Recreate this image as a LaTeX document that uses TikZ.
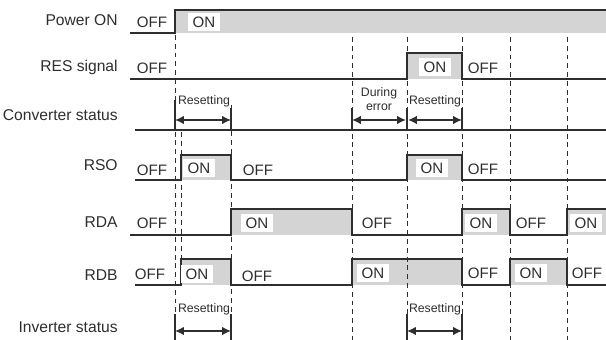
\documentclass[tikz,border=0pt]{standalone}
\usepackage{fontspec}
\setmainfont{Liberation Sans}
\usetikzlibrary{arrows.meta}
\definecolor{wire}{HTML}{2E2E2E}
\definecolor{level}{HTML}{D4D4D4}
\tikzset{>={Latex[length=5pt,width=4.8pt]},
  signal/.style={draw=wire,line width=1pt},
  guide/.style={draw=wire,dash pattern=on 2.8pt off 2.2pt,line width=.5pt},
  tick/.style={draw=wire,line width=.8pt},
  period/.style={<->,draw=wire,line width=.9pt},
  signame/.style={anchor=east,inner sep=0pt,font=\fontsize{8.9}{10}\selectfont,text=wire},
  state/.style={font=\fontsize{8.6}{10}\selectfont,text=wire,inner xsep=2.4pt,inner ysep=2.2pt},
  onbox/.style={state,fill=white},
  spanlabel/.style={font=\fontsize{7}{7.6}\selectfont,text=wire,inner sep=1pt,align=center}}

\begin{document}
\begin{tikzpicture}[x=0.02cm,y=-0.02cm]
\useasboundingbox (0,0) rectangle (606,340);

% signal names
\node[signame] (pwr) at (118,20) {Power ON};
\node[signame] (res) at (118,67) {RES signal};
\node[signame] (conv) at (118,115) {Converter status};
\node[signame] (rso) at (118,165) {RSO};
\node[signame] (rda) at (118,222) {RDA};
\node[signame] (rdb) at (118,275) {RDB};
\node[signame] (inv) at (118,327) {Inverter status};

% ON levels
\fill[level] (176,10) rectangle (606,33);
\fill[level] (407,53) rectangle (462,79);
\fill[level] (181,155) rectangle (231,180);\fill[level] (407,155) rectangle (462,180);
\fill[level] (231,209) rectangle (352,235);\fill[level] (462,209) rectangle (510,235);\fill[level] (567,209) rectangle (606,235);
\fill[level] (181,259) rectangle (231,285);\fill[level] (352,259) rectangle (462,285);\fill[level] (510,259) rectangle (567,285);

% guides
\foreach \x in {352,407,462,510,567} \draw[guide] (\x,37)--(\x,340);
\draw[guide] (175,35)--(175,340);
\draw[guide] (181,132)--(181,259);
\draw[guide] (231,105)--(231,340);

% waveforms
\draw[signal] (130,33)--(175,33)--(175,10)--(606,10);
\draw[signal] (130,79)--(407,79)--(407,53)--(462,53)--(462,79)--(606,79);
\draw[signal] (135,130)--(606,130);
\draw[signal] (135,180)--(181,180)--(181,155)--(231,155)--(231,180)--(407,180)--(407,155)--(462,155)--(462,180)--(606,180);
\draw[signal] (130,235)--(231,235)--(231,209)--(352,209)--(352,235)--(462,235)--(462,209)--(510,209)--(510,235)--(567,235)--(567,209)--(606,209);
\draw[signal] (135,285)--(181,285)--(181,259)--(231,259)--(231,285)--(352,285)--(352,259)--(462,259)--(462,285)--(510,285)--(510,259)--(567,259)--(567,285)--(606,285);

% states
\node[state] (pwrOff) at (152,22) {OFF};\node[onbox] (pwrOn) at (204,22) {ON};
\node[state] (resOff) at (152,68) {OFF};\node[onbox] (resOn) at (435,67) {ON};\node[state] (resOff2) at (483,68) {OFF};
\node[state] (rsoOff) at (152,170) {OFF};\node[onbox] (rsoOn) at (199,168) {ON};\node[state] (rsoOff2) at (258,170) {OFF};
\node[onbox] (rsoOn2) at (432,168) {ON};\node[state] (rsoOff3) at (483,169) {OFF};
\node[state] (rdaOff) at (152,223) {OFF};\node[onbox] (rdaOn) at (257,223) {ON};\node[state] (rdaOff2) at (377,223) {OFF};
\node[onbox] (rdaOn2) at (481,223) {ON};\node[state] (rdaOff3) at (531,223) {OFF};\node[onbox] (rdaOn3) at (586,223) {ON};
\node[state] (rdbOff) at (150,274) {OFF};\node[onbox] (rdbOn) at (197,274) {ON};\node[state] (rdbOff2) at (257,276) {OFF};
\node[onbox] (rdbOn2) at (373,273) {ON};\node[state] (rdbOff3) at (483,273) {OFF};\node[onbox] (rdbOn3) at (531,273) {ON};
\node[state] (rdbOff4) at (587,273) {OFF};

% periods
\foreach \x in {231,352,407,462} \draw[tick] (\x,108)--(\x,131);
\draw[tick] (175,100)--(175,131);
\foreach \x in {175,231,407,462} \draw[tick] (\x,314)--(\x,340);
\coordinate (cA) at (175,120);\coordinate (cB) at (231,120);
\coordinate (cC) at (352,120);\coordinate (cD) at (406,120);
\coordinate (cE) at (408,120);\coordinate (cF) at (462,120);
\coordinate (iA) at (175,331);\coordinate (iB) at (231,331);
\coordinate (iC) at (407,331);\coordinate (iD) at (462,331);
\draw[period] (cA)--(cB);\draw[period] (cC)--(cD);\draw[period] (cE)--(cF);
\draw[period] (iA)--(iB);\draw[period] (iC)--(iD);
\node[spanlabel] (convRst) at (204,101) {Resetting};
\node[spanlabel] (convErr) at (379,99) {During\\error};
\node[spanlabel] (convRst2) at (435,101) {Resetting};
\node[spanlabel] (invRst) at (204,309) {Resetting};
\node[spanlabel] (invRst2) at (435,309) {Resetting};
\end{tikzpicture}
\end{document}
